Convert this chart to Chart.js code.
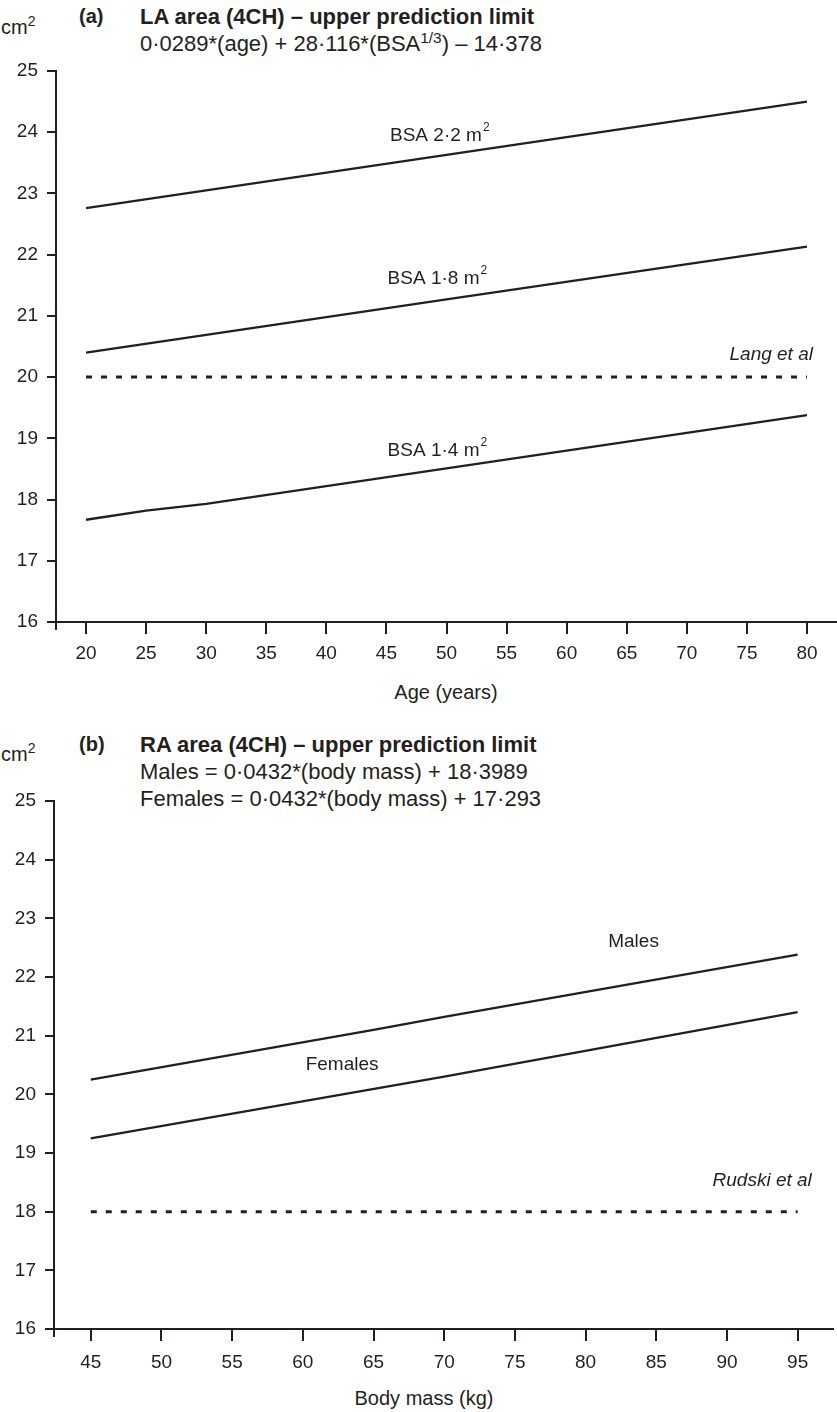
<!DOCTYPE html>
<html><head><meta charset="utf-8">
<script src="https://cdn.jsdelivr.net/npm/chart.js@4"></script>
<style>
body{margin:0;background:#fff;width:837px;height:1412px;position:relative;overflow:hidden;font-family:"Liberation Sans",Arial,sans-serif;color:#231f20}
.t{position:absolute;white-space:nowrap;line-height:1}
.b{font-weight:bold}
sup{font-size:0.7em;vertical-align:0.55em;line-height:0}
canvas{position:absolute;left:0}
</style></head><body>
<div class="t" style="left:1px;top:17px;font-size:20px">cm<sup>2</sup></div>
<div class="t b" style="left:79px;top:6px;font-size:20px">(a)</div>
<div class="t b" style="left:140px;top:6px;font-size:22px">LA area (4CH) – upper prediction limit</div>
<div class="t" style="left:140px;top:33px;font-size:22px">0·0289*(age) + 28·116*(BSA<sup>1/3</sup>) – 14·378</div>
<div class="t" style="left:446px;top:682px;font-size:20px;transform:translateX(-50%)">Age (years)</div>

<div class="t" style="left:1px;top:744px;font-size:20px">cm<sup>2</sup></div>
<div class="t b" style="left:79px;top:734px;font-size:20px">(b)</div>
<div class="t b" style="left:140px;top:734px;font-size:22px">RA area (4CH) – upper prediction limit</div>
<div class="t" style="left:140px;top:761px;font-size:22px">Males = 0·0432*(body mass) + 18·3989</div>
<div class="t" style="left:140px;top:788px;font-size:22px">Females = 0·0432*(body mass) + 17·293</div>
<div class="t" style="left:424px;top:1388px;font-size:20px;transform:translateX(-50%)">Body mass (kg)</div>

<canvas id="ca" width="837" height="712" style="top:0"></canvas>
<canvas id="cb" width="837" height="702" style="top:710px"></canvas>
<script>
// ---- Panel (a) data ----
const ageTicks = [20, 25, 30, 35, 40, 45, 50, 55, 60, 65, 70, 75, 80];
const yTicks = [16, 17, 18, 19, 20, 21, 22, 23, 24, 25];
const ageBsa22 = [20, 50, 80];
const valBsa22 = [22.76, 23.63, 24.50];
const ageBsa18 = [20, 50, 80];
const valBsa18 = [20.40, 21.27, 22.13];
const ageBsa14 = [20, 25, 30, 80];
const valBsa14 = [17.67, 17.82, 17.93, 19.38];
const ageLang = [20, 80];
const valLang = [20, 20];
// ---- Panel (b) data ----
const massTicks = [45, 50, 55, 60, 65, 70, 75, 80, 85, 90, 95];
const massMales = [45, 65, 70, 95];
const valMales = [20.25, 21.10, 21.32, 22.38];
const massFemales = [45, 70, 95];
const valFemales = [19.25, 20.30, 21.40];
const massRudski = [45, 95];
const valRudski = [18, 18];

const INK = '#231f20';
const FONT = '"Liberation Sans", Arial, sans-serif';
const pts = (xs, ys) => xs.map((x, i) => ({x, y: ys[i]}));
const solid = (xs, ys) => ({data: pts(xs, ys), borderColor: INK, borderWidth: 2.3, pointRadius: 0, tension: 0, fill: false});
const dashed = (xs, ys) => ({data: pts(xs, ys), borderColor: INK, borderWidth: 3, borderDash: [6, 9], pointRadius: 0, tension: 0, fill: false});

// labels: [text, sup, x, y, align, italic]
const labelsA = [
  ['BSA 2·2 m', '2', 45.3, 23.95, 'left', false],
  ['BSA 1·8 m', '2', 45.1, 21.6, 'left', false],
  ['BSA 1·4 m', '2', 45.1, 18.8, 'left', false],
  ['Lang et al', '', 80.5, 20.36, 'right', true]
];
const labelsB = [
  ['Males', '', 81.6, 22.6, 'left', false],
  ['Females', '', 60.2, 20.5, 'left', false],
  ['Rudski et al', '', 96.0, 18.53, 'right', true]
];

function labelPlugin(list) {
  return {
    id: 'lbl',
    afterDatasetsDraw(chart) {
      const {ctx, scales: {x, y}} = chart;
      ctx.save();
      ctx.fillStyle = INK;
      ctx.textBaseline = 'middle';
      list.forEach(([t, s, dx, dy, al, it]) => {
        ctx.font = (it ? 'italic ' : '') + '19px ' + FONT;
        const w = ctx.measureText(t).width;
        ctx.font = '12px ' + FONT;
        const ws = s ? ctx.measureText(s).width : 0;
        let px = x.getPixelForValue(dx);
        const py = y.getPixelForValue(dy);
        if (al === 'right') px -= (w + ws);
        ctx.font = (it ? 'italic ' : '') + '19px ' + FONT;
        ctx.textAlign = 'left';
        ctx.fillText(t, px, py);
        if (s) { ctx.font = '12px ' + FONT; ctx.fillText(s, px + w + 1, py - 8); }
      });
      ctx.restore();
    },
    afterDraw(chart) {
      const {ctx, chartArea} = chart;
      ctx.save();
      ctx.strokeStyle = INK; ctx.lineWidth = 2;
      ctx.beginPath();
      ctx.moveTo(chartArea.left, chartArea.bottom);
      ctx.lineTo(chartArea.left, chartArea.bottom + 8);
      ctx.stroke();
      ctx.restore();
    }
  };
}

function makeChart(id, datasets, xmin, xmax, xticks, pad, yWidth, xHeight, xPad, labels) {
  return new Chart(document.getElementById(id), {
    type: 'line',
    data: {datasets},
    plugins: [labelPlugin(labels)],
    options: {
      responsive: false, animation: false,
      layout: {padding: pad},
      plugins: {legend: {display: false}, tooltip: {enabled: false}},
      scales: {
        x: {
          type: 'linear', min: xmin, max: xmax,
          afterBuildTicks: s => { s.ticks = xticks.map(v => ({value: v})); },
          afterFit: s => { s.height = xHeight; },
          grid: {drawOnChartArea: false, drawTicks: true, tickLength: 12, color: INK, lineWidth: 2},
          border: {display: true, color: INK, width: 2},
          ticks: {color: INK, font: {family: FONT, size: 19}, padding: xPad, maxRotation: 0, autoSkip: false, callback: v => String(v)}
        },
        y: {
          type: 'linear', min: 16, max: 25,
          afterBuildTicks: s => { s.ticks = yTicks.map(v => ({value: v})); },
          afterFit: s => { s.width = yWidth; },
          grid: {drawOnChartArea: false, drawTicks: true, tickLength: 9, color: INK, lineWidth: 2},
          border: {display: true, color: INK, width: 2},
          ticks: {color: INK, font: {family: FONT, size: 19}, padding: 9, callback: v => String(v)}
        }
      }
    }
  });
}

makeChart('ca', [
  solid(ageBsa22, valBsa22), solid(ageBsa18, valBsa18), solid(ageBsa14, valBsa14), dashed(ageLang, valLang)
], 17.5, 82.5, ageTicks, {top: 71, left: 0, right: 0, bottom: 0}, 56, 712 - 622, 8, labelsA);

makeChart('cb', [
  solid(massMales, valMales), solid(massFemales, valFemales), dashed(massRudski, valRudski)
], 42.4, 97.5, massTicks, {top: 91, left: 0, right: 4, bottom: 0}, 54, 702 - 619, 10, labelsB);
</script>
</body></html>
